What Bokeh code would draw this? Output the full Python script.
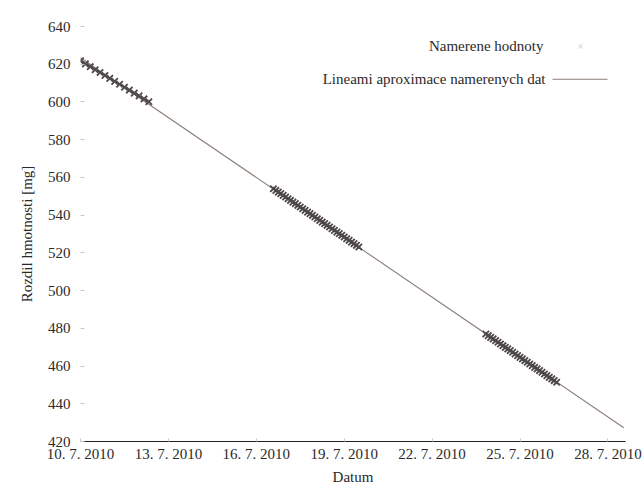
import numpy as np
import pandas as pd
from bokeh.plotting import figure
from bokeh.models import Range1d, FixedTicker, Label
from bokeh.embed import file_html
from bokeh.resources import INLINE

# ---- data ----
start_date = "2010-07-10 00:00"

times1_start, times1_step = "2010-07-10 00:00", "4h"
values1 = [621.8, 620.2, 618.7, 617.1, 615.6, 614.0, 612.5, 610.9,
           609.4, 607.8, 606.3, 604.7, 603.2, 601.6, 600.1]

times2_start, times2_step = "2010-07-16 14:00", "2h"
values2 = [554.0, 553.1, 552.2, 551.4, 550.5, 549.6, 548.7, 547.8, 546.9, 546.1,
           545.2, 544.3, 543.4, 542.5, 541.6, 540.8, 539.9, 539.0, 538.1, 537.2,
           536.3, 535.5, 534.6, 533.7, 532.8, 531.9, 531.0, 530.2, 529.3, 528.4,
           527.5, 526.6, 525.7, 524.9, 524.0, 523.1]

times3_start, times3_step = "2010-07-23 20:00", "2h"
values3 = [477.0, 476.1, 475.2, 474.4, 473.5, 472.6, 471.7, 470.8, 469.9, 469.1,
           468.2, 467.3, 466.4, 465.5, 464.6, 463.8, 462.9, 462.0, 461.1, 460.2,
           459.3, 458.5, 457.6, 456.7, 455.8, 454.9, 454.0, 453.2, 452.3, 451.4]

fit_range = ["2010-07-10 00:00", "2010-07-28 13:00"]

x_tick_dates = ["2010-07-10", "2010-07-13", "2010-07-16", "2010-07-19",
                "2010-07-22", "2010-07-25", "2010-07-28"]
x_tick_labels = ["10. 7. 2010", "13. 7. 2010", "16. 7. 2010", "19. 7. 2010",
                 "22. 7. 2010", "25. 7. 2010", "28. 7. 2010"]
y_ticks = [420, 440, 460, 480, 500, 520, 540, 560, 580, 600, 620, 640]

legend_measured = "Namerene hodnoty"
legend_fit = "Lineami aproximace namerenych dat"
x_title = "Datum"
y_title = "Rozdil hmotnosti [mg]"

# ---- helpers ----
t0 = pd.Timestamp(start_date)
def days(ts):
    return [(pd.Timestamp(s) - t0) / pd.Timedelta(days=1) for s in ts]

def series_days(start, step, n):
    return days(pd.date_range(start=start, periods=n, freq=step))

xm = (series_days(times1_start, times1_step, len(values1))
      + series_days(times2_start, times2_step, len(values2))
      + series_days(times3_start, times3_step, len(values3)))
ym = values1 + values2 + values3
slope, intercept = np.polyfit(xm, ym, 1)
xf = days(fit_range)
yf = [intercept + slope * v for v in xf]

FONT = "Liberation Serif"
FS = "15px"
TXT = "#2a2a2a"

W, H = 642, 487
L, R, T, B = 80, 17, 26, 44
x0, x1 = 0.0, 18.6
y0, y1 = 420.0, 640.0

p = figure(width=W, height=H, output_backend="svg", toolbar_location=None,
           x_range=Range1d(x0, x1), y_range=Range1d(y0, y1),
           min_border_left=L, min_border_right=R, min_border_top=T, min_border_bottom=B)
p.outline_line_color = None
p.grid.visible = False
p.background_fill_color = "white"
p.border_fill_color = "white"

fw, fh = W - L - R, H - T - B
def px_x(px):
    return x0 + (px - L) / fw * (x1 - x0)
def px_y(py):
    return y1 - (py - T) / fh * (y1 - y0)

p.line(xf, yf, line_color="#8a7e77", line_width=1.1)
p.scatter(xm, ym, marker="x", size=9, line_color="#4d4747", line_width=1.8)

xa = p.xaxis[0]
xtv = days(x_tick_dates)
xa.ticker = FixedTicker(ticks=xtv)
xa.major_label_overrides = {v: lab for v, lab in zip(xtv, x_tick_labels)}
xa.axis_line_color = "#222222"
xa.axis_line_width = 1.0
xa.major_tick_in = 3
xa.major_tick_out = 0
xa.major_tick_line_color = "#cccccc"
xa.minor_tick_line_color = None
xa.major_label_text_font = FONT
xa.major_label_text_font_size = FS
xa.major_label_text_color = TXT
xa.major_label_standoff = 4
xa.axis_label = x_title
xa.axis_label_text_font = FONT
xa.axis_label_text_font_size = FS
xa.axis_label_text_font_style = "normal"
xa.axis_label_text_color = TXT
xa.axis_label_standoff = 4

ya = p.yaxis[0]
ya.ticker = FixedTicker(ticks=y_ticks)
ya.axis_line_color = None
ya.major_tick_in = 4
ya.major_tick_out = 0
ya.major_tick_line_color = "#c8c8c8"
ya.minor_tick_line_color = None
ya.major_label_text_font = FONT
ya.major_label_text_font_size = FS
ya.major_label_text_color = TXT
ya.major_label_standoff = 10
ya.axis_label = y_title
ya.axis_label_text_font = FONT
ya.axis_label_text_font_size = FS
ya.axis_label_text_font_style = "normal"
ya.axis_label_text_color = TXT
ya.axis_label_standoff = 10

p.add_layout(Label(x=px_x(543), y=px_y(46), text=legend_measured, text_align="right",
                   text_baseline="middle", text_font=FONT, text_font_size=FS,
                   text_color=TXT))
p.add_layout(Label(x=px_x(545), y=px_y(79), text=legend_fit, text_align="right",
                   text_baseline="middle", text_font=FONT, text_font_size=FS,
                   text_color=TXT))
p.add_layout(Label(x=px_x(580), y=px_y(46), text="×", text_align="center",
                   text_baseline="middle", text_font=FONT, text_font_size="10px",
                   text_color="#c4c4c4"))
p.segment(x0=[px_x(552)], y0=[px_y(79)], x1=[px_x(607)], y1=[px_y(79)],
          line_color="#8a7e77", line_width=1.1)

open("out.html", "w").write(file_html(p, INLINE))
